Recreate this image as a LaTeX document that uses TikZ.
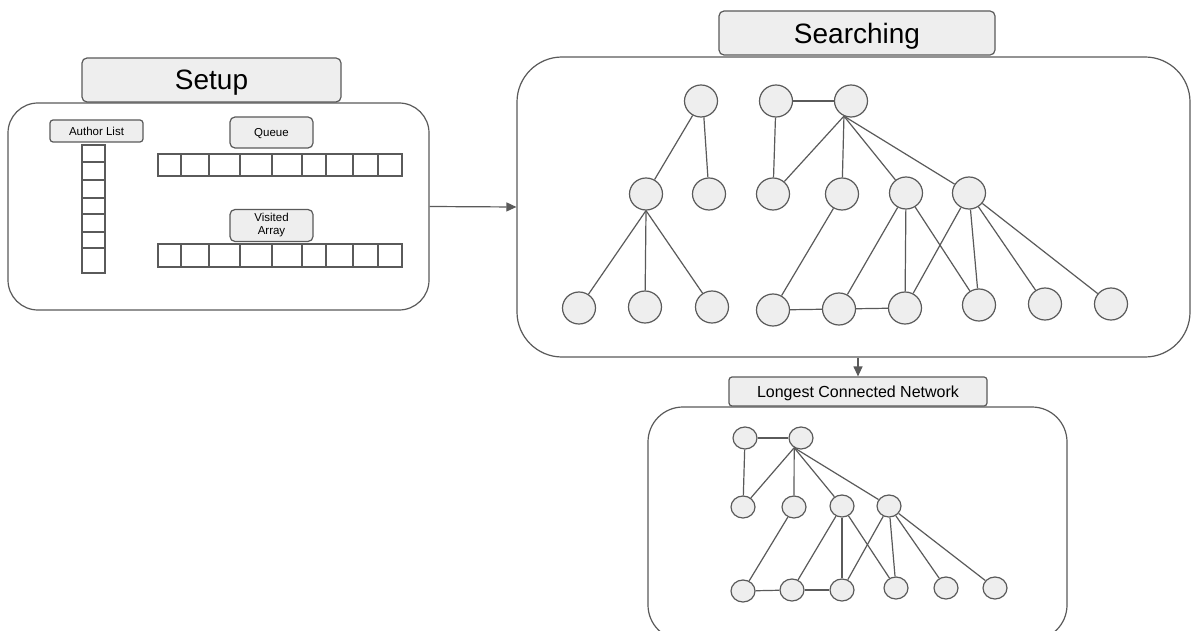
\documentclass[tikz,border=0pt]{standalone}
\usepackage{fontspec}
\setmainfont{Liberation Sans}
\usetikzlibrary{shapes.geometric,arrows.meta}
\definecolor{boxfill}{HTML}{EEEEEE}
\definecolor{edgec}{HTML}{5A5A5A}
\begin{document}
\begin{tikzpicture}[x=1pt,y=-1pt,
 panel/.style={draw=edgec, line width=1.2pt, rounded corners=#1, inner sep=0pt},
 titlebox/.style={draw=edgec, fill=boxfill, line width=1.2pt, rounded corners=5pt, inner sep=0pt, align=center, text=black},
 oneline/.style={text depth=0pt},
 vert/.style={ellipse, draw=edgec, fill=boxfill, line width=1.2pt, inner sep=0pt, minimum width=33, minimum height=32},
 svert/.style={vert, minimum width=24, minimum height=22},
 link/.style={draw=edgec, line width=1.2pt},
 cell/.style={draw=edgec, line width=1.2pt},
 arr/.style={draw=edgec, line width=1.2pt, -{Triangle[length=10pt,width=9pt]}},
 bigfont/.style={font=\fontsize{28}{32}\selectfont},
 midfont/.style={font=\fontsize{16}{19}\selectfont},
 smallfont/.style={font=\fontsize{11.5}{13}\selectfont},
]
\useasboundingbox[fill=white] (0,0) rectangle (1191,631);

% ---------------- Setup ----------------
\node[panel=30pt, minimum width=421, minimum height=207] (setup) at (218.5,206.5) {};
\node[titlebox, oneline, bigfont, minimum width=259, minimum height=44] (setuptitle) at (211.5,80) {Setup};
\node[titlebox, oneline, smallfont, minimum width=93, minimum height=22, rounded corners=3pt] (authlbl) at (96.5,131) {Author List};
\node[titlebox, oneline, smallfont, minimum width=83, minimum height=31] (queuelbl) at (271.5,132.5) {Queue};
\node[titlebox, smallfont, minimum width=83, minimum height=32] (visitlbl) at (271.5,225.5) {Visited\\Array};

% author list column
\draw[cell] (82,145) rectangle (105,273);
\foreach \yy in {162,180,198,214,232,248} \draw[cell] (82,\yy) -- (105,\yy);
% queue array
\draw[cell] (158,154) rectangle (402,176);
\foreach \xx in {181,209,240,272,302,326,353,378} \draw[cell] (\xx,154) -- (\xx,176);
% visited array
\draw[cell] (158,244) rectangle (402,267);
\foreach \xx in {181,209,240,272,302,326,353,378} \draw[cell] (\xx,244) -- (\xx,267);

% ---------------- Searching ----------------
\node[panel=45pt, minimum width=673, minimum height=300] (search) at (853.5,207) {};
\node[titlebox, oneline, bigfont, minimum width=276, minimum height=44] (searchtitle) at (857,33) {Searching};

\node[vert] (a) at (701,101) {};
\node[vert] (c) at (776,101) {};
\node[vert] (d) at (851,101) {};
\node[vert] (b1) at (646,194) {};
\node[vert] (b2) at (709,194) {};
\node[vert] (b3) at (773,194) {};
\node[vert] (b4) at (842,194) {};
\node[vert] (b5) at (906,193) {};
\node[vert] (b6) at (969,193) {};
\node[vert] (l1) at (579,308) {};
\node[vert] (l2) at (645,307) {};
\node[vert] (l3) at (712,307) {};
\node[vert] (l4) at (773,310) {};
\node[vert] (l5) at (839,309) {};
\node[vert] (l6) at (905,308) {};
\node[vert] (l7) at (979,305) {};
\node[vert] (l8) at (1045,304) {};
\node[vert] (l9) at (1111,304) {};

\draw[link] (a.240) -- (b1);
\draw[link] (a.280) -- (b2);
\draw[link] (c) -- (d);
\draw[link] (c) -- (b3);
\foreach \t in {b3,b4,b5,b6} \draw[link] (d.245) -- (\t);
\foreach \t in {l1,l2,l3} \draw[link] (b1.south) -- (\t);
\draw[link] (b4) -- (l4);
\draw[link] (l4) -- (l5);
\draw[link] (l5) -- (l6);
\foreach \t in {l5,l6,l7} \draw[link] (b5) -- (\t);
\foreach \t in {l6,l7,l8,l9} \draw[link] (b6) -- (\t);

% ---------------- Longest Connected Network ----------------
\node[panel=35pt, minimum width=419, minimum height=233] (lcn) at (857.5,523.5) {};
\node[titlebox, oneline, midfont, minimum width=258, minimum height=29, rounded corners=3pt] (lcnlbl) at (858,391.5) {Longest Connected Network};

\node[svert] (t1) at (745,438) {};
\node[svert] (t2) at (801,438) {};
\node[svert] (m1) at (743,507) {};
\node[svert] (m2) at (794,507) {};
\node[svert] (m3) at (842,506) {};
\node[svert] (m4) at (889,506) {};
\node[svert] (n1) at (743,591) {};
\node[svert] (n2) at (792,590) {};
\node[svert] (n3) at (842,590) {};
\node[svert] (n4) at (896,588) {};
\node[svert] (n5) at (946,588) {};
\node[svert] (n6) at (995,588) {};

\draw[link] (t1) -- (t2);
\draw[link] (t1) -- (m1);
\foreach \t in {m1,m2,m3,m4} \draw[link] (t2.235) -- (\t);
\draw[link] (m2) -- (n1);
\draw[link] (n1) -- (n2);
\draw[link] (n2) -- (n3);
\foreach \t in {n2,n3,n4} \draw[link] (m3) -- (\t);
\foreach \t in {n3,n4,n5,n6} \draw[link] (m4) -- (\t);

% ---------------- Arrows ----------------
\draw[arr] (setup.east) -- (search.west);
\draw[arr] (lcnlbl.north |- search.south) -- (lcnlbl.north);
\end{tikzpicture}
\end{document}
